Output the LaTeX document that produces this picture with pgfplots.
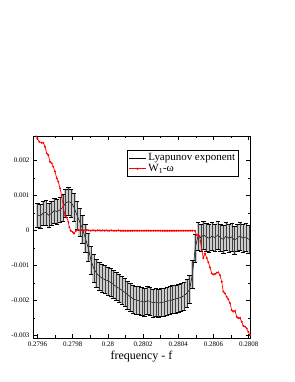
\documentclass[border=0pt]{standalone}
\usepackage{fontspec}
\setmainfont{Liberation Serif}
\usepackage{pgfplots}
\usepackage{pgfplotstable}
\pgfplotsset{compat=1.18}
\pgfplotstableread{
f v e
0.279600 0.00045 0.00035
0.279616 0.00042 0.00035
0.279632 0.00050 0.00035
0.279648 0.00052 0.00035
0.279664 0.00044 0.00035
0.279680 0.00050 0.00035
0.279696 0.00058 0.00036
0.279712 0.00054 0.00036
0.279728 0.00060 0.00037
0.279744 0.00066 0.00038
0.279760 0.00080 0.00040
0.279776 0.00083 0.00040
0.279792 0.00080 0.00040
0.279808 0.00066 0.00040
0.279824 0.00045 0.00040
0.279840 0.00025 0.00040
0.279856 0.00005 0.00040
0.279872 -0.00022 0.00040
0.279888 -0.00048 0.00040
0.279904 -0.00085 0.00040
0.279920 -0.00108 0.00040
0.279936 -0.00122 0.00040
0.279952 -0.00130 0.00040
0.279968 -0.00136 0.00040
0.279984 -0.00140 0.00040
0.280000 -0.00143 0.00040
0.280016 -0.00148 0.00040
0.280032 -0.00154 0.00040
0.280048 -0.00160 0.00040
0.280064 -0.00165 0.00040
0.280080 -0.00170 0.00040
0.280096 -0.00176 0.00040
0.280112 -0.00183 0.00040
0.280128 -0.00189 0.00040
0.280144 -0.00195 0.00040
0.280160 -0.00198 0.00040
0.280176 -0.00200 0.00040
0.280192 -0.00202 0.00040
0.280208 -0.00204 0.00040
0.280224 -0.00200 0.00040
0.280240 -0.00202 0.00040
0.280256 -0.00206 0.00040
0.280272 -0.00204 0.00040
0.280288 -0.00207 0.00040
0.280304 -0.00205 0.00040
0.280320 -0.00204 0.00040
0.280336 -0.00201 0.00040
0.280352 -0.00200 0.00040
0.280368 -0.00197 0.00040
0.280384 -0.00195 0.00040
0.280400 -0.00193 0.00040
0.280416 -0.00190 0.00040
0.280432 -0.00186 0.00040
0.280448 -0.00179 0.00040
0.280464 -0.00168 0.00040
0.280480 -0.00125 0.00040
0.280496 -0.00050 0.00040
0.280512 -0.00015 0.00040
0.280528 -0.00020 0.00040
0.280544 -0.00012 0.00040
0.280560 -0.00018 0.00040
0.280576 -0.00022 0.00040
0.280592 -0.00015 0.00040
0.280608 -0.00020 0.00040
0.280624 -0.00012 0.00040
0.280640 -0.00020 0.00040
0.280656 -0.00025 0.00040
0.280672 -0.00015 0.00040
0.280688 -0.00022 0.00040
0.280704 -0.00018 0.00040
0.280720 -0.00028 0.00040
0.280736 -0.00020 0.00040
0.280752 -0.00015 0.00040
0.280768 -0.00022 0.00040
0.280784 -0.00018 0.00040
0.280800 -0.00025 0.00040
}\lyap
\pgfplotstableread{
f v
0.2795915 0.00272
0.2795989 0.00264
0.2796102 0.00254
0.2796239 0.00251
0.2796330 0.00251
0.2796426 0.00240
0.2796523 0.00221
0.2796614 0.00216
0.2796710 0.00197
0.2796807 0.00193
0.2796898 0.00183
0.2796994 0.00169
0.2797091 0.00150
0.2797182 0.00140
0.2797278 0.00121
0.2797375 0.00100
0.2797466 0.00068
0.2797563 0.00043
0.2797659 0.00038
0.2797750 0.00025
0.2797807 0.00010
0.2797886 0.00000
0.2798000 -0.00004
0.2798074 -0.00008
0.2798188 0.00000
0.27983 0.00002
0.27984 0.00001
0.27985 0.00002
0.27986 0.00001
0.27987 0.00001
0.27988 0.00002
0.27989 0.00001
0.27990 0.00000
0.27991 0.00001
0.27992 0.00001
0.27993 0.00000
0.27994 0.00001
0.27995 0.00001
0.27996 0.00000
0.27997 0.00001
0.27998 0.00000
0.27999 0.00001
0.28000 0.00000
0.28001 0.00000
0.28002 0.00001
0.28003 0.00000
0.28004 0.00000
0.28005 0.00000
0.28006 0.00001
0.28007 0.00000
0.28008 0.00000
0.28009 0.00000
0.28010 0.00000
0.28011 0.00000
0.28012 0.00000
0.28013 0.00000
0.28014 0.00000
0.28015 0.00000
0.28016 0.00000
0.28017 0.00000
0.28018 0.00000
0.28019 0.00000
0.28020 0.00000
0.28021 0.00000
0.28022 0.00000
0.28023 0.00000
0.28024 0.00000
0.28025 0.00000
0.28026 0.00000
0.28027 0.00000
0.28028 0.00000
0.28029 0.00000
0.28030 0.00000
0.28031 0.00000
0.28032 0.00000
0.28033 0.00000
0.28034 0.00000
0.28035 0.00000
0.28036 0.00000
0.28037 0.00000
0.28038 0.00000
0.28039 0.00000
0.28040 0.00000
0.28041 0.00000
0.28042 0.00000
0.28043 0.00000
0.28044 0.00000
0.28045 0.00000
0.28046 0.00000
0.28047 0.00000
0.28048 0.00000
0.2804949 0.00000
0.2805034 -0.00012
0.2805119 -0.00013
0.2805205 -0.00016
0.2805261 -0.00030
0.2805330 -0.00055
0.2805421 -0.00078
0.2805517 -0.00065
0.2805614 -0.00078
0.2805705 -0.00090
0.2805801 -0.00105
0.2805898 -0.00122
0.2805989 -0.00125
0.2806085 -0.00124
0.2806182 -0.00120
0.2806273 -0.00119
0.2806369 -0.00127
0.2806466 -0.00146
0.2806557 -0.00174
0.2806653 -0.00179
0.2806750 -0.00189
0.2806841 -0.00196
0.2806938 -0.00207
0.2807034 -0.00227
0.2807125 -0.00231
0.2807222 -0.00229
0.2807318 -0.00246
0.2807409 -0.00250
0.2807506 -0.00249
0.2807602 -0.00260
0.2807693 -0.00272
0.2807790 -0.00274
0.2807886 -0.00279
0.2807977 -0.00289
0.2808074 -0.00298
}\wone
\begin{document}
\begin{tikzpicture}[x=1bp,y=1bp]
\path[use as bounding box] (0,0) rectangle (295,382);
\begin{axis}[
  at={(33bp,44bp)}, anchor=south west,
  scale only axis, width=217bp, height=202bp,
  xmin=0.2795744, xmax=0.2808074, ymin=-0.003066, ymax=0.002706,
  xtick={0.2796,0.2798,0.28,0.2802,0.2804,0.2806,0.2808},
  ytick={-0.003,-0.002,-0.001,0,0.001,0.002},
  minor x tick num=1, minor y tick num=1,
  scaled ticks=false,
  xticklabel style={/pgf/number format/fixed,/pgf/number format/precision=4},
  yticklabel style={/pgf/number format/fixed,/pgf/number format/precision=3},
  /pgf/number format/assume math mode=true,
  tick label style={font=\fontsize{7}{8}\selectfont},
  tick align=inside, major tick length=4bp, minor tick length=2.5bp,
  tick style={black, line width=0.5pt},
  axis line style={line width=0.8pt},
  xlabel={frequency - f},
  xlabel style={font=\fontsize{12}{14}\selectfont, yshift=2pt},
  legend style={at={(0.949,0.931)}, anchor=north east,
    font=\fontsize{11}{12}\selectfont, draw=black, line width=0.6pt,
    inner sep=1.5pt, row sep=-2pt},
  legend cell align=left,
]
\addplot[draw=none, forget plot,
  error bars/.cd, y dir=both, y explicit,
  error bar style={black!20, line width=2.9bp},
  error mark=none]
  table[x=f, y=v, y error=e] {\lyap};
\addplot[black, line width=0.5pt,
  error bars/.cd, y dir=both, y explicit,
  error bar style={black!75, line width=0.35pt},
  error mark options={rotate=90, black, mark size=2.2bp, line width=0.4pt}]
  table[x=f, y=v, y error=e] {\lyap};
\addlegendentry{Lyapunov exponent}
\addplot[red, line width=0.7pt, mark=*, mark size=0.6bp, mark options={fill=red}]
  table[x=f, y=v] {\wone};
\addlegendentry{W\textsubscript{1}-ω}
\end{axis}
\end{tikzpicture}
\end{document}
